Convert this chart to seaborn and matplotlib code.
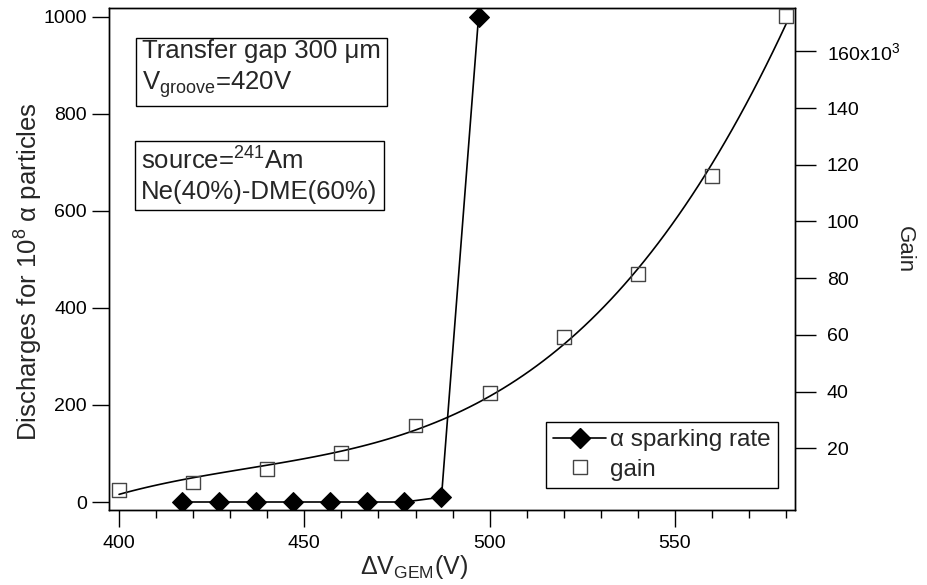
import numpy as np
import pandas as pd
import matplotlib
matplotlib.use("Agg")
import matplotlib.pyplot as plt
import seaborn as sns
from matplotlib.lines import Line2D
from matplotlib.ticker import MultipleLocator, FixedLocator, FuncFormatter

# data
spark_voltage = [417, 427, 437, 447, 457, 467, 477, 487, 497]
spark_rate = [0, 0, 0, 0, 0, 0, 0, 10, 1000]

gain_voltage = [400, 420, 440, 460, 480, 500, 520, 540, 560, 580]
gain_k = [5.3, 7.9, 12.7, 18.2, 28.0, 39.6, 59.3, 81.6, 115.9, 172.5]

right_ticks = [20, 40, 60, 80, 100, 120, 140, 160]

sns.set_style("ticks")
plt.rcParams["font.family"] = ["Liberation Sans", "DejaVu Sans"]
plt.rcParams["mathtext.fontset"] = "custom"
plt.rcParams["mathtext.rm"] = "Liberation Sans"
plt.rcParams["mathtext.it"] = "Liberation Sans:italic"
plt.rcParams["axes.edgecolor"] = "black"
plt.rcParams["axes.linewidth"] = 1.0
plt.rcParams["xtick.color"] = "black"
plt.rcParams["ytick.color"] = "black"

fig = plt.figure(figsize=(9.28, 5.85), dpi=100)
ax = fig.add_axes([0.1175, 0.1282, 0.7392, 0.8581])
ax2 = ax.twinx()

# sparking rate (left axis)
sns.lineplot(x=spark_voltage, y=spark_rate, ax=ax, color="black", linewidth=1.2,
             marker="D", markersize=10, markeredgecolor="black")

# gain (right axis) with fitted curve
sns.regplot(x=gain_voltage, y=gain_k, ax=ax2, order=3, ci=None, scatter=False,
            line_kws=dict(color="black", linewidth=1.2))
sns.scatterplot(x=gain_voltage, y=gain_k, ax=ax2, marker="s", s=100,
                facecolor="none", edgecolor="#444444", linewidth=1.0, zorder=5)

ax.set_xlim(397.3, 582.4)
ax.set_ylim(-16.5, 1018.5)
ax2.set_ylim(-1.8, 175.3)

ax.xaxis.set_major_locator(MultipleLocator(50))
ax.xaxis.set_minor_locator(MultipleLocator(10))
ax.yaxis.set_major_locator(MultipleLocator(200))
ax.tick_params(axis="x", which="major", direction="out", length=12, width=1, labelsize=14, pad=6)
ax.tick_params(axis="x", which="minor", direction="out", length=6, width=1)
ax.tick_params(axis="y", which="major", direction="out", length=12, width=1, labelsize=14, pad=4)

ax2.yaxis.set_major_locator(FixedLocator(right_ticks))
ax2.yaxis.set_major_formatter(FuncFormatter(
    lambda v, p: "160x10$^{3}$" if v == 160 else f"{v:.0f}"))
ax2.tick_params(axis="y", which="major", direction="out", length=15, width=1, labelsize=14, pad=8)

ax.set_xlabel("ΔV$_{\\mathrm{GEM}}$(V)", fontsize=18)
ax.xaxis.set_label_coords(0.445, -0.086)
ax.set_ylabel("Discharges for 10$^{8}$ α particles", fontsize=18.5)
ax.yaxis.set_label_coords(-0.093, 0.475)
ax2.set_ylabel("Gain", fontsize=16, rotation=270, va="center")
ax2.yaxis.set_label_coords(1.16, 0.518)

box = dict(boxstyle="square,pad=0.25", facecolor="white", edgecolor="black", linewidth=1)
ax.text(0.048, 0.938, "Transfer gap 300 μm\nV$_{\\mathrm{groove}}$=420V", transform=ax.transAxes,
        ha="left", va="top", fontsize=18.5, bbox=box, linespacing=1.3)
ax.text(0.047, 0.722, "source=$^{241}$Am\nNe(40%)-DME(60%)", transform=ax.transAxes,
        ha="left", va="top", fontsize=18.5, bbox=box, linespacing=1.25)

handles = [
    Line2D([], [], color="black", linewidth=1.2, marker="D", markersize=10, label="α sparking rate"),
    Line2D([], [], linestyle="none", marker="s", markersize=10, markerfacecolor="none",
           markeredgecolor="#444444", label="gain"),
]
leg = ax2.legend(handles=handles, loc="lower right", bbox_to_anchor=(0.975, 0.044),
                 fontsize=17.5, frameon=True, fancybox=False, edgecolor="black", framealpha=1,
                 handlelength=2.2, handletextpad=0.15, borderaxespad=0, borderpad=0.3,
                 labelspacing=0.3)
leg.get_frame().set_linewidth(1)

fig.savefig("out.png", dpi=100)
